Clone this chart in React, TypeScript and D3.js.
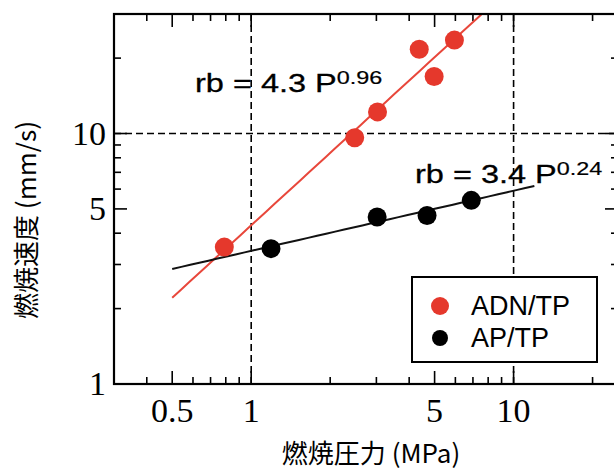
import React from "react";
import * as d3 from "d3";

// Burning-rate data (pressure in MPa, burning rate in mm/s)
const adnPressure = [0.79, 2.48, 3.03, 4.37, 4.98, 5.95];
const adnRate = [3.52, 9.61, 12.2, 21.7, 16.9, 23.6];
const apPressure = [1.19, 3.02, 4.68, 6.9];
const apRate = [3.47, 4.64, 4.71, 5.41];

// Power-law fits rb = a * P^n
const adnFit = { a: 4.3, n: 0.96, from: 0.5, to: 10 };
const apFit = { a: 3.4, n: 0.24, from: 0.5, to: 12 };

const seriesNames = ["ADN/TP", "AP/TP"];
const xTickLabels = [0.5, 1, 5, 10];
const yTickLabels = [1, 5, 10];
const xMinorTicks = [0.4, 0.6, 0.7, 0.8, 0.9, 2, 3, 4, 6, 7, 8, 9, 20];
const yMinorTicks = [2, 3, 4, 6, 7, 8, 9, 20];
const xGrid = [1, 10];
const yGrid = [10];

const W = 614;
const H = 469;
const m = { left: 114, right: 618, top: 14, bottom: 384 };

const RED = "#e5382c";
const RED_LINE = "#e8473b";

export default function App() {
  const x = d3.scaleLog().domain([0.3, 25]).range([m.left, m.right]);
  const y = d3.scaleLog().domain([1, 30]).range([m.bottom, m.top]);

  const fitLine = (f: { a: number; n: number; from: number; to: number }) => {
    const pts = d3.range(0, 41).map((i) => {
      const p = f.from * Math.pow(f.to / f.from, i / 40);
      return [p, f.a * Math.pow(p, f.n)] as [number, number];
    });
    return d3
      .line<[number, number]>()
      .x((d) => x(d[0]))
      .y((d) => y(d[1]))(pts) as string;
  };

  const serif = "'Liberation Serif', 'DejaVu Serif', serif";
  const sans = "'Liberation Sans', Arial, sans-serif";
  const cjk = "'Noto Sans CJK JP', 'Noto Sans', sans-serif";
  const major = 13;
  const minor = 7;

  return (
    <svg
      width={W}
      height={H}
      style={{ position: "absolute", left: 0, top: 0, background: "#fff" }}
    >
      <defs>
        <clipPath id="plot-clip">
          <rect x={m.left} y={m.top} width={m.right - m.left} height={m.bottom - m.top} />
        </clipPath>
      </defs>
      <rect x={0} y={0} width={W} height={H} fill="#fff" />

      {/* dashed reference grid */}
      {xGrid.map((v) => (
        <line key={"gx" + v} x1={x(v)} x2={x(v)} y1={m.top} y2={m.bottom}
          stroke="#000" strokeWidth={1.6} strokeDasharray="7 4" />
      ))}
      {yGrid.map((v) => (
        <line key={"gy" + v} x1={m.left} x2={m.right} y1={y(v)} y2={y(v)}
          stroke="#000" strokeWidth={1.6} strokeDasharray="7 4" />
      ))}

      {/* ticks on all four sides */}
      {[...xTickLabels.map((v) => [v, major]), ...xMinorTicks.map((v) => [v, minor])].map(([v, len]) => (
        <g key={"xt" + v}>
          <line x1={x(v)} x2={x(v)} y1={m.bottom} y2={m.bottom - len} stroke="#000" strokeWidth={1.6} />
          <line x1={x(v)} x2={x(v)} y1={m.top} y2={m.top + len} stroke="#000" strokeWidth={1.6} />
        </g>
      ))}
      {[...yTickLabels.map((v) => [v, major]), ...yMinorTicks.map((v) => [v, minor])].map(([v, len]) => (
        <g key={"yt" + v}>
          <line x1={m.left} x2={m.left + len} y1={y(v)} y2={y(v)} stroke="#000" strokeWidth={1.6} />
          <line x1={m.right} x2={m.right - len} y1={y(v)} y2={y(v)} stroke="#000" strokeWidth={1.6} />
        </g>
      ))}

      {/* fit lines */}
      <g clipPath="url(#plot-clip)">
        <path d={fitLine(adnFit)} fill="none" stroke={RED_LINE} strokeWidth={2} />
        <path d={fitLine(apFit)} fill="none" stroke="#111" strokeWidth={2} />
      </g>

      {/* data points */}
      {adnPressure.map((p, i) => (
        <circle key={"a" + i} cx={x(p)} cy={y(adnRate[i])} r={9.5} fill={RED} />
      ))}
      {apPressure.map((p, i) => (
        <circle key={"b" + i} cx={x(p)} cy={y(apRate[i])} r={9.5} fill="#000" />
      ))}

      {/* fit equations */}
      <g transform="translate(195,92) scale(1.3,1)">
        <text fontFamily={sans} fontSize={25} fill="#000" stroke="#000" strokeWidth={0.3}>
          rb = {adnFit.a} P
          <tspan fontSize={18} dy={-8} strokeWidth={0.2}>{adnFit.n.toFixed(2)}</tspan>
        </text>
      </g>
      <g transform="translate(415,183) scale(1.3,1)">
        <text fontFamily={sans} fontSize={25} fill="#000" stroke="#000" strokeWidth={0.3}>
          rb = {apFit.a} P
          <tspan fontSize={18} dy={-8} strokeWidth={0.2}>{apFit.n.toFixed(2)}</tspan>
        </text>
      </g>

      {/* legend */}
      <rect x={412} y={277} width={185} height={85} fill="#fff" stroke="#000" strokeWidth={2} />
      <circle cx={440} cy={306} r={9} fill={RED} />
      <text x={471} y={315} fontFamily={sans} fontSize={27} fill="#000">{seriesNames[0]}</text>
      <circle cx={440} cy={338} r={8} fill="#000" />
      <text x={471} y={347} fontFamily={sans} fontSize={27} fill="#000">{seriesNames[1]}</text>

      {/* frame */}
      <rect x={m.left} y={m.top} width={m.right - m.left} height={m.bottom - m.top}
        fill="none" stroke="#000" strokeWidth={2.2} />

      {/* tick labels */}
      {xTickLabels.map((v) => (
        <text key={"xl" + v} x={x(v)} y={422} textAnchor="middle" fontFamily={serif} fontSize={34} fill="#000">
          {v}
        </text>
      ))}
      {yTickLabels.map((v) => (
        <text key={"yl" + v} x={106} y={y(v) + 11} textAnchor="end" fontFamily={serif} fontSize={34} fill="#000">
          {v}
        </text>
      ))}

      {/* axis titles */}
      <text x={371} y={463} textAnchor="middle" fontFamily={cjk} fontSize={26} fill="#000">
        燃焼圧力 (MPa)
      </text>
      <text transform="translate(36,220) rotate(-90)" textAnchor="middle" fontFamily={cjk} fontSize={26} fill="#000">
        燃焼速度 (mm/s)
      </text>
    </svg>
  );
}
